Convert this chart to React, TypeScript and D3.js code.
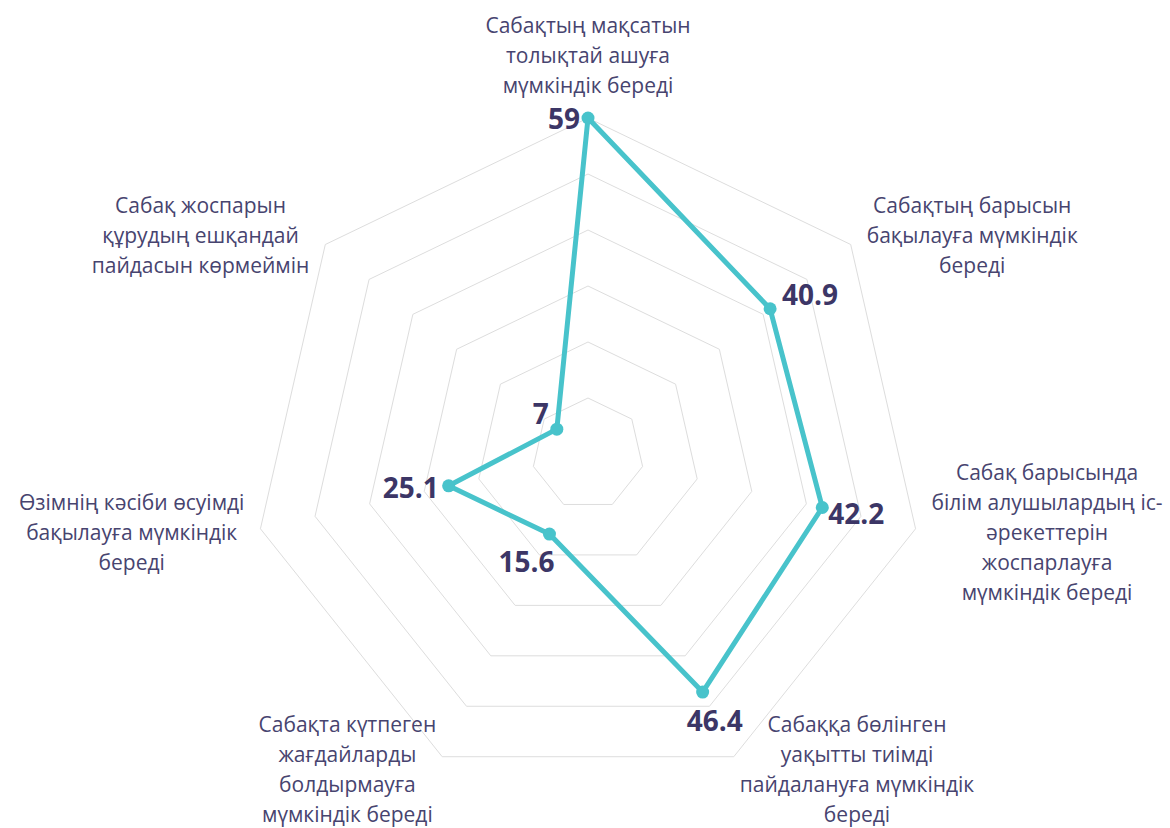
import React from "react";
import * as d3 from "d3";

// category labels, already broken into lines as in the original
const categories: string[][] = [
  ["Сабақтың мақсатын", "толықтай ашуға", "мүмкіндік береді"],
  ["Сабақтың барысын", "бақылауға мүмкіндік", "береді"],
  ["Сабақ барысында", "білім алушылардың іс-", "әрекеттерін", "жоспарлауға", "мүмкіндік береді"],
  ["Сабаққа бөлінген", "уақытты тиімді", "пайдалануға мүмкіндік", "береді"],
  ["Сабақта күтпеген", "жағдайларды", "болдырмауға", "мүмкіндік береді"],
  ["Өзімнің кәсіби өсуімді", "бақылауға мүмкіндік", "береді"],
  ["Сабақ жоспарын", "құрудың ешқандай", "пайдасын көрмеймін"],
];

const values: number[] = [59, 40.9, 42.2, 46.4, 15.6, 25.1, 7];

const gridLevels = 6;

// where each value label sits relative to its dot
const valueLabelPlacement: { anchor: string; dx: number; dy: number }[] = [
  { anchor: "end", dx: -8, dy: 0 },
  { anchor: "start", dx: 12, dy: -15 },
  { anchor: "start", dx: 6, dy: 6 },
  { anchor: "middle", dx: 12, dy: 28 },
  { anchor: "middle", dx: -23, dy: 27 },
  { anchor: "end", dx: -10, dy: 1 },
  { anchor: "end", dx: -8, dy: -16 },
];

const W = 1170;
const H = 828;
const cx = 588;
const cy = 454;
const radius = 336;

const labelSize = 21;
const labelFont = `${labelSize}px 'Open Sans'`;
const lineH = 30;
const teal = "#48c3cb";
const textColor = "#47446f";
const valueColor = "#3c3666";

let ctx: CanvasRenderingContext2D | null = null;
const measure = (s: string) => {
  if (!ctx) ctx = document.createElement("canvas").getContext("2d");
  ctx!.font = labelFont;
  return ctx!.measureText(s).width;
};

const App = () => {
  const n = categories.length;
  const r = d3.scaleLinear().domain([0, d3.max(values)!]).range([0, radius]);
  const angle = (i: number) => (i * 2 * Math.PI) / n;
  const pt = (i: number, rr: number): [number, number] => [
    cx + rr * Math.sin(angle(i)),
    cy - rr * Math.cos(angle(i)),
  ];

  const ring = d3
    .lineRadial<number>()
    .angle((_, i) => angle(i))
    .radius((d) => d)
    .curve(d3.curveLinearClosed);

  const series = d3
    .lineRadial<number>()
    .angle((_, i) => angle(i))
    .radius((d) => r(d))
    .curve(d3.curveLinearClosed);

  const levels = d3.range(1, gridLevels + 1).map((k) => (radius * k) / gridLevels);

  return (
    <svg
      width={W}
      height={H}
      style={{ position: "absolute", left: 0, top: 0, background: "#fff" }}
      fontFamily="'Open Sans', sans-serif"
    >
      <g transform={`translate(${cx},${cy})`}>
        {levels.map((lv, k) => (
          <path
            key={k}
            d={ring(d3.range(n).map(() => lv))!}
            fill="none"
            stroke="#dddddd"
            strokeWidth={1}
          />
        ))}
        <path d={series(values)!} fill="none" stroke={teal} strokeWidth={5} strokeLinejoin="round" />
      </g>

      {values.map((v, i) => {
        const [x, y] = pt(i, r(v));
        return <circle key={i} cx={x} cy={y} r={6.5} fill={teal} />;
      })}

      {values.map((v, i) => {
        const [x, y] = pt(i, r(v));
        const p = valueLabelPlacement[i];
        return (
          <text
            key={i}
            x={x + p.dx}
            y={y + p.dy}
            textAnchor={p.anchor}
            dominantBaseline="central"
            fontSize={28}
            fontWeight={700}
            fill={valueColor}
          >
            {v}
          </text>
        );
      })}

      {categories.map((lines, i) => {
        const [vx, vy] = pt(i, radius);
        const s = Math.sin(angle(i));
        const c = Math.cos(angle(i));
        const w = d3.max(lines, measure)!;
        let x: number;
        let y0: number;
        if (Math.abs(s) < 0.01) {
          x = vx;
          y0 = vy - 33 - (lines.length - 1) * lineH;
        } else {
          const gap = Math.abs(s) > 0.7 ? 16 : 6;
          x = vx + Math.sign(s) * (gap + w / 2);
          const mid = vy - c * 16 - (c < -0.8 ? 2 : 0);
          y0 = mid - ((lines.length - 1) * lineH) / 2;
        }
        return (
          <text key={i} textAnchor="middle" fontSize={labelSize} fill={textColor}>
            {lines.map((l, j) => (
              <tspan key={j} x={x} y={y0 + j * lineH} dominantBaseline="central">
                {l}
              </tspan>
            ))}
          </text>
        );
      })}
    </svg>
  );
};

export default App;
